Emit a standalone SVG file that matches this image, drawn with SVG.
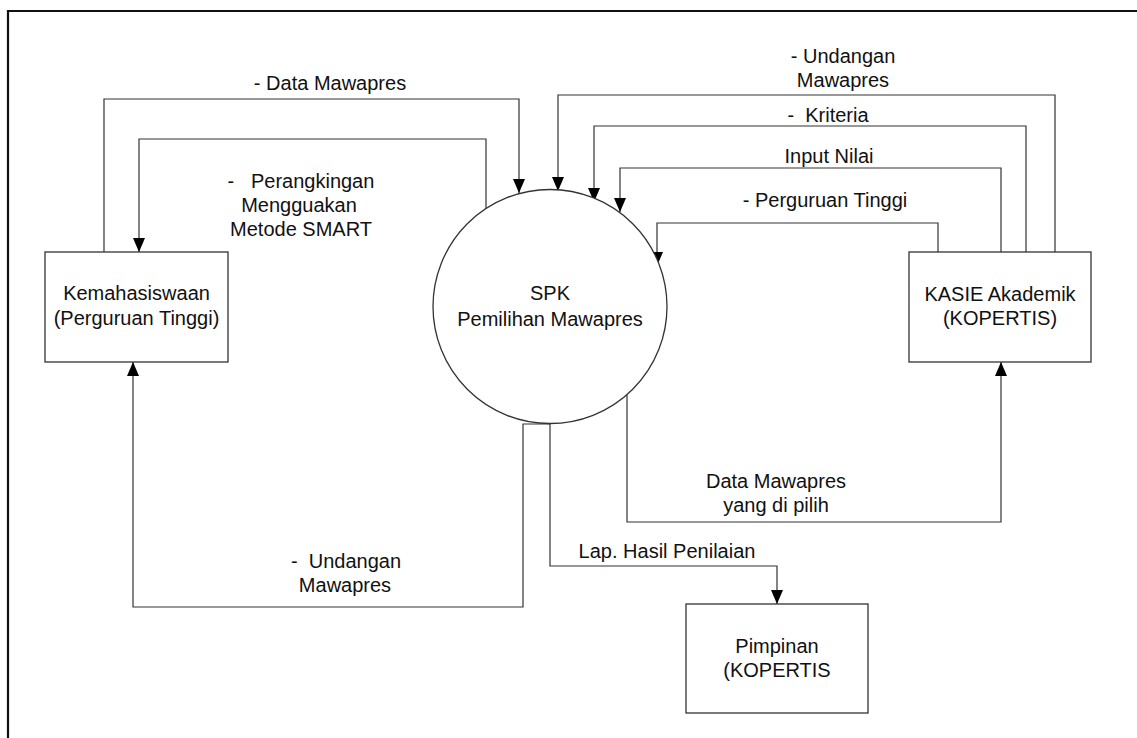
<svg xmlns="http://www.w3.org/2000/svg" width="1137" height="738" viewBox="0 0 1137 738">
<defs>
<marker id="ah" markerUnits="userSpaceOnUse" markerWidth="14" markerHeight="12" viewBox="0 0 14 12" refX="14" refY="6" orient="auto">
<path d="M0,0 L14,6 L0,12 Z" fill="#000"/>
</marker>
<style>
text{font-family:"Liberation Sans",Arial,sans-serif;font-size:20px;fill:#111;white-space:pre;text-anchor:middle}
.box{fill:#fff;stroke:#333;stroke-width:1.3}
.c{fill:none;stroke:#333;stroke-width:1.2;marker-end:url(#ah)}
</style>
</defs>
<rect width="1137" height="738" fill="#fff"/>
<path d="M8,738 V11 H1137" fill="none" stroke="#111" stroke-width="2.2"/>
<g id="connectors">
<path class="c" d="M104,252 V99 H519 V193"/>
<path class="c" d="M486,209 V139 H139 V252"/>
<path class="c" d="M550,424 H523 V607 H133 V362"/>
<path class="c" d="M550,423 V566 H777 V604"/>
<path class="c" d="M627,395 V522 H1001 V362"/>
<path class="c" d="M1055,252 V95 H558 V191"/>
<path class="c" d="M1026,252 V126 H594 V202"/>
<path class="c" d="M1001,252 V168 H620 V212"/>
<path class="c" d="M938,252 V223 H657 V266"/>
</g>
<g id="labels">
<text x="330" y="90">- Data Mawapres</text>
<text x="301" y="188">-   Perangkingan</text>
<text x="299" y="212">Mengguakan</text>
<text x="301" y="236">Metode SMART</text>
<text x="843" y="63">- Undangan</text>
<text x="843" y="87">Mawapres</text>
<text x="828" y="122">-  Kriteria</text>
<text x="829" y="163">Input Nilai</text>
<text x="825" y="207">- Perguruan Tinggi</text>
<text x="776" y="488">Data Mawapres</text>
<text x="776" y="512">yang di pilih</text>
<text x="667" y="558">Lap. Hasil Penilaian</text>
<text x="346" y="568">-  Undangan</text>
<text x="345" y="592">Mawapres</text>
</g>
<g id="kemahasiswaan">
<rect class="box" x="45" y="252" width="183" height="110"/>
<text x="136.5" y="300">Kemahasiswaan</text>
<text x="136.5" y="325">(Perguruan Tinggi)</text>
</g>
<g id="spk">
<circle class="box" cx="550" cy="306.5" r="117"/>
<text x="550" y="300">SPK</text>
<text x="550" y="326">Pemilihan Mawapres</text>
</g>
<g id="kasie">
<rect class="box" x="909" y="252" width="182" height="110"/>
<text x="1000" y="301">KASIE Akademik</text>
<text x="1000" y="325">(KOPERTIS)</text>
</g>
<g id="pimpinan">
<rect class="box" x="686" y="604" width="182" height="109"/>
<text x="777" y="653">Pimpinan</text>
<text x="777" y="677">(KOPERTIS</text>
</g>
</svg>
